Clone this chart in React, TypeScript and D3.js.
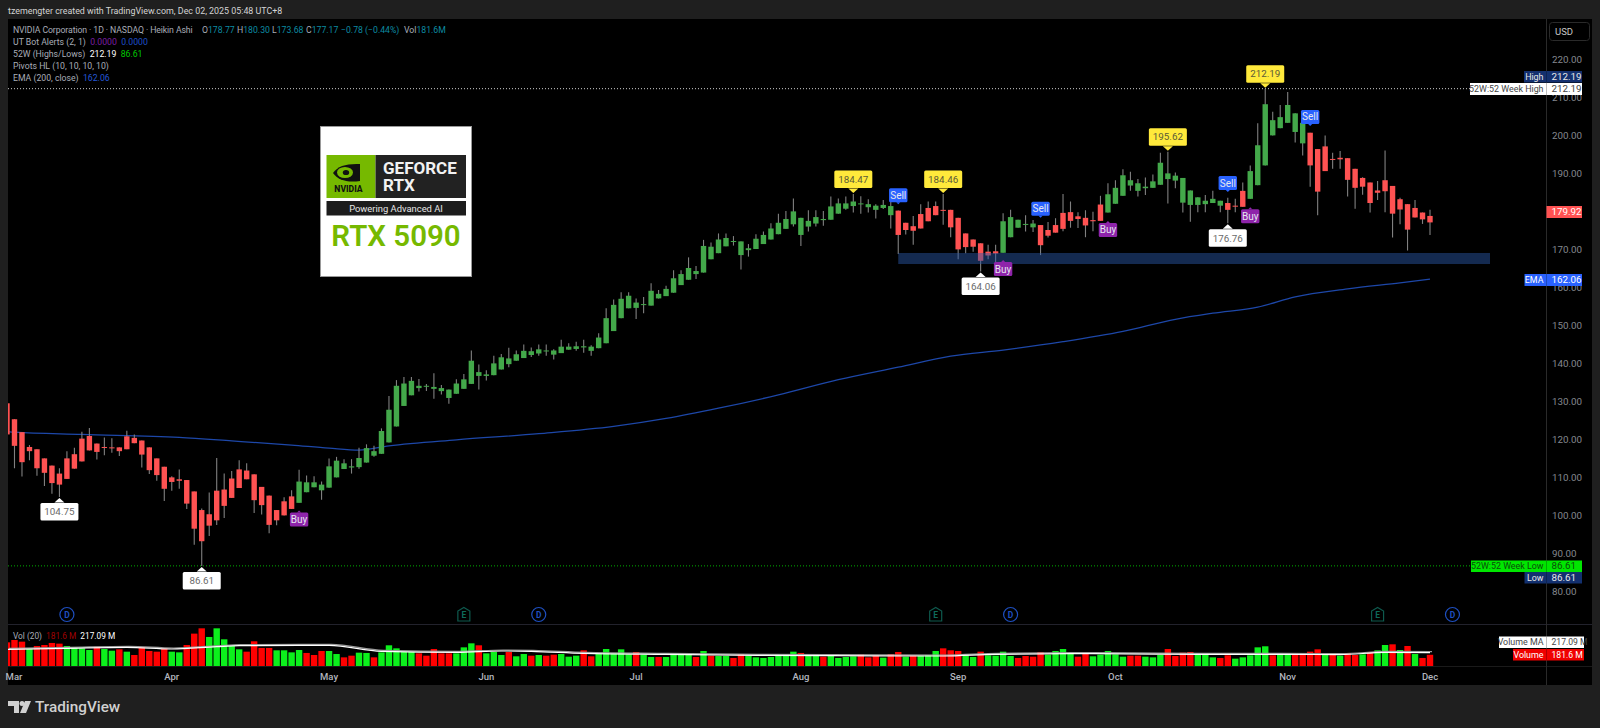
import React, { useEffect, useRef } from 'react';
import * as d3 from 'd3';

// Heikin Ashi candles, one entry per trading day
const candleHigh = [129.4,125.2,121.8,118.4,117.3,114.9,113.0,112.3,116.8,117.7,121.9,122.9,118.8,120.4,120.2,117.8,122.2,121.2,119.6,117.8,114.9,112.7,110.2,112.0,109.2,106.2,101.7,105.9,115.0,110.9,111.6,114.4,113.6,110.7,107.4,105.1,101.3,104.7,106.5,111.9,110.4,110.2,108.8,114.9,115.3,114.7,114.7,117.7,118.6,118.2,122.8,131.3,135.5,136.3,136.3,135.8,134.5,137.3,134.2,133.0,135.7,137.1,143.3,139.6,138.1,141.9,142.4,144.0,143.3,144.9,144.1,144.9,144.9,143.6,146.1,145.2,145.6,146.1,144.7,147.8,154.4,156.7,158.6,158.6,157.0,157.4,161.0,159.2,160.3,164.4,164.4,167.8,165.5,172.4,171.7,174.1,174.1,173.4,172.0,171.3,173.9,174.6,176.8,179.3,180.0,183.3,178.2,180.2,180.2,180.0,183.8,183.3,183.8,184.47,183.9,183.1,181.8,182.9,182.5,180.1,176.9,178.7,181.8,182.5,182.5,184.46,180.3,178.2,174.1,172.5,171.5,171.1,171.1,179.4,180.3,177.7,178.9,177.6,176.3,177.1,178.1,184.5,182.5,179.7,180.2,179.8,184.0,187.3,188.1,191.0,190.3,188.4,188.8,189.6,195.3,195.62,190.1,188.7,185.4,183.6,184.2,185.3,182.7,183.5,183.2,187.5,192.0,203.1,212.19,206.1,207.9,211.3,205.7,203.2,200.6,196.3,199.9,195.3,195.8,193.9,191.1,188.9,187.5,187.9,195.9,186.6,183.5,181.8,182.9,179.6,180.3];
const candleTop = [129.4,125.2,121.8,117.9,117.3,114.9,113.0,110.9,114.9,116.0,120.1,120.8,118.8,117.9,117.8,117.8,120.7,120.3,119.6,117.8,114.9,112.7,109.9,109.4,109.2,106.2,101.3,100.2,106.4,106.7,109.6,112.0,111.7,110.7,107.4,105.1,101.3,103.6,104.9,108.8,108.6,108.6,108.0,112.8,114.3,113.6,112.8,115.0,117.6,116.8,122.1,127.7,134.0,134.6,135.3,134.0,134.0,133.7,133.4,133.0,134.6,135.7,140.6,137.6,137.0,139.9,141.5,141.2,142.3,143.2,143.1,143.6,143.3,143.3,144.3,144.3,144.4,144.4,144.3,146.7,151.8,155.3,156.9,157.7,155.9,155.5,159.0,158.2,159.5,162.3,163.4,165.0,164.2,170.8,170.6,172.5,172.9,172.1,172.0,170.2,172.7,173.7,175.4,176.9,177.9,179.9,178.2,177.4,178.4,177.9,181.2,182.0,182.0,182.5,182.0,181.8,181.4,181.6,181.3,180.1,176.9,176.0,179.2,180.8,181.3,180.3,180.3,178.2,174.1,172.5,171.5,169.3,169.4,177.3,178.4,177.7,176.6,176.7,176.3,175.0,176.3,179.5,179.7,178.6,178.2,177.6,181.7,184.4,186.1,189.4,188.1,187.3,186.4,187.8,192.7,189.9,189.3,188.7,185.4,183.6,182.7,183.2,182.7,182.1,181.4,185.3,190.5,197.3,208.1,203.9,204.7,207.9,205.7,203.2,200.6,196.3,197.0,193.7,194.0,193.9,191.1,188.7,187.5,185.4,188.1,186.6,183.1,181.8,180.8,179.6,178.7];
const candleBottom = [121.2,118.2,113.9,116.8,112.3,111.1,108.4,108.0,109.5,112.2,114.1,117.0,116.6,117.7,117.6,116.8,117.3,118.9,115.9,111.8,110.5,106.9,108.7,109.0,103.0,96.4,93.1,97.2,98.6,102.4,104.5,107.1,109.4,103.9,102.6,97.4,98.6,99.9,101.6,103.2,106.0,107.3,106.5,107.2,109.9,112.1,112.5,112.6,113.8,115.6,116.1,119.1,123.3,128.7,131.5,133.4,133.8,133.2,132.6,130.8,131.9,133.2,134.5,136.6,136.6,136.8,138.3,139.7,140.6,141.3,142.1,142.5,143.2,142.2,142.6,143.5,143.7,144.1,143.2,143.9,145.2,148.4,151.8,154.4,154.5,155.3,155.1,157.0,157.6,158.5,160.5,161.9,163.4,163.8,167.3,168.9,170.7,171.9,168.4,169.7,170.0,171.3,172.5,173.9,175.3,176.5,173.7,175.9,176.7,177.6,177.7,179.3,180.6,181.3,181.9,181.0,180.3,180.8,178.9,173.7,175.0,174.8,175.4,177.3,178.9,180.1,175.7,169.9,170.5,170.6,166.9,168.3,168.8,169.0,173.1,175.6,176.4,175.7,171.0,173.5,174.3,175.3,177.4,177.9,176.2,177.3,177.4,179.6,181.9,184.0,186.7,185.3,186.0,186.1,186.9,188.4,188.0,182.2,181.6,181.6,181.8,182.1,181.4,180.3,181.2,181.1,183.2,186.8,192.0,199.9,201.8,203.2,200.8,197.8,192.0,185.1,190.5,193.5,193.6,188.2,186.1,186.4,182.1,184.8,185.2,179.3,180.4,175.1,178.3,177.8,177.0];
const candleLow = [121.2,112.3,110.1,114.4,110.3,107.6,105.6,104.75,109.5,112.2,114.1,117.0,114.6,115.7,116.4,115.5,117.3,118.9,112.5,110.8,109.0,103.7,106.4,106.9,101.6,92.2,86.61,94.5,97.4,99.2,104.5,107.1,109.4,100.5,100.1,95.2,97.3,99.9,101.6,103.2,106.0,107.3,104.0,107.2,109.9,112.1,110.9,112.2,113.8,115.3,116.1,119.1,123.3,128.7,131.5,132.5,132.6,130.6,131.7,129.3,131.9,133.2,134.5,133.0,135.4,136.8,138.3,138.9,140.6,141.3,141.6,141.9,141.9,140.9,142.6,143.5,143.2,142.7,141.9,143.9,145.2,148.4,151.8,154.4,151.6,153.1,155.1,157.0,157.6,158.5,160.5,161.9,162.1,163.8,167.3,168.9,170.7,170.9,164.6,168.0,170.0,171.3,172.5,173.9,175.3,175.9,170.8,174.6,175.9,176.1,177.7,179.3,180.3,179.6,179.3,179.6,178.0,180.5,175.4,168.7,173.8,171.1,175.4,177.3,178.9,176.4,173.1,167.3,168.9,169.3,164.06,167.3,166.6,169.0,173.1,175.6,174.6,174.5,168.4,173.0,174.3,174.7,175.6,175.5,173.1,174.7,177.4,179.6,181.9,184.0,185.3,183.8,184.2,186.1,186.9,182.0,186.0,179.6,177.2,179.7,179.7,182.1,179.7,176.76,179.7,181.1,183.2,186.8,192.0,199.9,201.8,203.2,198.0,194.6,186.4,178.9,190.5,191.1,191.1,183.8,180.6,184.3,179.6,182.9,179.7,173.0,176.5,169.6,178.3,176.6,173.68];
const candleDir = 'r'.repeat(39) + 'g'.repeat(80) + 'r'.repeat(14) + 'g'.repeat(5) + 'r'.repeat(9) + 'g'.repeat(16) + 'r'.repeat(3) + 'g'.repeat(8) + 'r'.repeat(17);

// volume in millions
const volume = [383,421,394,275,324,340,373,362,324,297,286,259,313,275,248,270,232,178,302,243,232,281,232,221,340,524,610,470,610,432,324,270,232,400,292,292,254,254,221,259,211,178,243,243,194,140,167,216,211,140,221,335,286,227,227,205,167,275,205,205,205,302,367,335,205,227,178,227,157,194,167,178,167,184,194,151,167,254,157,200,275,200,270,189,227,184,146,146,146,184,184,184,146,243,167,162,162,130,194,162,140,130,146,167,189,232,211,162,167,151,173,130,146,157,189,140,167,135,194,227,151,167,167,173,243,286,254,243,173,146,232,173,167,232,162,130,162,151,227,184,243,275,200,151,194,157,184,243,189,151,167,167,151,140,178,275,162,216,227,184,178,140,130,173,119,140,173,302,319,173,178,178,178,178,232,270,189,184,167,211,178,189,227,254,340,351,259,324,194,130,181.6];
const volumeDir = 'rrrgrrrrggggrggrgrrrrrggrrrgggggrrrrggggrrrggrrggrgggggrrrrrgggrggg'
  + 'rggrgrrgggrrgggggrggrggggrgrggrrgggggggrggrggggrrrgrrgrgggrrrggrgg'
  + 'ggrrrrggggrrgggggrrgggrrrrgggrrgggggrggrrrrgrgrrgrggrgrgrr';

// read-offs for the slow lines: [bar index] and value at that bar
const emaBars = [0,1,10,23,30,38,43,47,51,60,71,81,88,95,103,111,119,126,133,141,149,156,161,167,172,179,186,190];
const emaValues = [122.0,121.8,121.2,120.4,119.5,118.4,117.6,117.1,118.2,119.8,121.4,123.3,125.4,128.1,131.6,135.6,138.9,141.8,143.4,145.6,148.3,151.5,153.1,154.7,157.4,159.5,161.1,162.06];
const volMaBars = [0,8,16,22,28,31,43,50,60,66,70,77,88,100,110,125,132,145,160,170,178,184,190];
const volMaValues = [270,286,302,275,313,329,335,238,221,243,238,205,189,173,167,162,189,200,189,189,184,221,217.09];

const priceTicks = [220,210,200,190,170,160,150,140,130,120,110,100,90,80];
const monthBars = [1,22,43,64,84,106,127,148,171,190];
const monthLabels = ['Mar','Apr','May','Jun','Jul','Aug','Sep','Oct','Nov','Dec'];

const pivotBars = [7,26,113,125,130,155,163,168];
const pivotPrices = [104.75,86.61,184.47,184.46,164.06,195.62,176.76,212.19];
const pivotKinds = ['low','low','high','high','low','high','low','high'];

const sellBars = [119,138,163,174];
const sellPrices = [181.8,178.2,185.0,202.4];
const buyBars = [39,133,147,166];
const buyPrices = [101.2,167.1,177.4,181.0];

const dividendBars = [8,71,134,193];
const earningsBars = [61,124,183];

const FONT = 'Roboto, "Noto Sans", sans-serif';
const W = 1600;
const H = 728;

const App: React.FC = () => {
  const ref = useRef<SVGSVGElement | null>(null);

  useEffect(() => {
    if (!ref.current) return;
    const svg = d3.select(ref.current);
    svg.selectAll('*').remove();

    const x = d3.scaleLinear().domain([0, 190]).range([7, 1430]);
    const y = d3.scaleLinear().domain([80, 220]).range([591, 59]);
    const yVol = d3.scaleLinear().domain([0, 680]).range([666, 624]);

    svg.append('rect').attr('width', W).attr('height', H).attr('fill', '#1f1f1f');
    svg.append('rect').attr('x', 8).attr('y', 19).attr('width', 1584).attr('height', 666).attr('fill', '#000');

    svg.append('text').attr('x', 8).attr('y', 14).attr('fill', '#d4d4d4').attr('font-size', 8.9)
      .attr('font-family', FONT).text('tzemengter created with TradingView.com, Dec 02, 2025 05:48 UTC+8');

    svg.append('defs').append('clipPath').attr('id', 'plot')
      .append('rect').attr('x', 8).attr('y', 19).attr('width', 1538).attr('height', 666);
    const plot = svg.append('g').attr('clip-path', 'url(#plot)');

    // 52 week lines
    plot.append('line').attr('x1', 8).attr('x2', 1472).attr('y1', y(212.19)).attr('y2', y(212.19))
      .attr('stroke', '#cfcfcf').attr('stroke-dasharray', '1 2');
    plot.append('line').attr('x1', 8).attr('x2', 1472).attr('y1', y(86.61)).attr('y2', y(86.61))
      .attr('stroke', '#00b000').attr('stroke-dasharray', '1 2');

    // EMA
    const emaLine = d3.line<number>().x((d) => x(d)).y((_, i) => y(emaValues[i])).curve(d3.curveMonotoneX);
    plot.append('path').attr('d', emaLine(emaBars)).attr('fill', 'none').attr('stroke', '#1d47a8').attr('stroke-width', 1.25);

    // candles
    const bars = d3.range(candleHigh.length);
    const bw = 5.4;
    const wick = plot.append('g');
    wick.selectAll('line').data(bars).join('line')
      .attr('x1', (i) => x(i)).attr('x2', (i) => x(i))
      .attr('y1', (i) => y(candleHigh[i])).attr('y2', (i) => y(candleLow[i]))
      .attr('stroke', '#808080').attr('stroke-width', 1.1);
    const body = plot.append('g');
    body.selectAll('rect').data(bars).join('rect')
      .attr('x', (i) => x(i) - bw / 2).attr('width', bw)
      .attr('y', (i) => y(candleTop[i]))
      .attr('height', (i) => Math.max(1, y(candleBottom[i]) - y(candleTop[i])))
      .attr('fill', (i) => (candleDir[i] === 'g' ? '#43a84a' : '#ff5252'));

    // support band sits over the candles
    plot.append('rect').attr('x', x(119)).attr('width', 1490 - x(119))
      .attr('y', y(168.95)).attr('height', y(166.05) - y(168.95))
      .attr('fill', '#2a57a8').attr('opacity', 0.48);

    // pivots
    const pivotStyle: Record<string, { fill: string; text: string }> = {
      high: { fill: '#ffe93b', text: '#5a5a38' },
      low: { fill: '#ffffff', text: '#6a6a6a' },
    };
    const tag = svg.append('g').attr('font-family', FONT);
    pivotBars.forEach((bar, k) => {
      const up = pivotKinds[k] === 'high';
      const s = pivotStyle[pivotKinds[k]];
      const cx = x(bar);
      const tip = y(pivotPrices[k]) + (up ? -1 : 1);
      const dir = up ? -1 : 1;
      const near = tip + dir * 5;
      const boxY = up ? near - 17.5 : near;
      tag.append('path').attr('d', `M${cx - 5},${near + (up ? 0.5 : -0.5)}L${cx},${tip}L${cx + 5},${near + (up ? 0.5 : -0.5)}Z`).attr('fill', s.fill);
      tag.append('rect').attr('x', cx - 19).attr('y', boxY).attr('width', 38).attr('height', 17.5).attr('rx', 1.5).attr('fill', s.fill);
      tag.append('text').attr('x', cx).attr('y', boxY + 12.3).attr('text-anchor', 'middle').attr('font-size', 9.8)
        .attr('fill', s.text).text(d3.format('.2f')(pivotPrices[k]));
    });

    // UT bot signals
    const signal = (bar: number, price: number, label: string, fill: string, above: boolean) => {
      const cx = x(bar);
      const tip = y(price);
      const boxY = above ? tip - 16 : tip + 2;
      tag.append('path').attr('d', above ? `M${cx - 2},${tip - 2}L${cx},${tip}L${cx + 2},${tip - 2}Z` : `M${cx - 2},${tip + 2}L${cx},${tip}L${cx + 2},${tip + 2}Z`).attr('fill', fill);
      tag.append('rect').attr('x', cx - 9.2).attr('y', boxY).attr('width', 18.4).attr('height', 14).attr('rx', 1.5).attr('fill', fill);
      tag.append('text').attr('x', cx).attr('y', boxY + 10.5).attr('text-anchor', 'middle').attr('font-size', 10)
        .attr('fill', '#e6e6f0').text(label);
    };
    sellBars.forEach((b, k) => signal(b, sellPrices[k], 'Sell', '#2962ff', true));
    buyBars.forEach((b, k) => signal(b, buyPrices[k], 'Buy', '#8e24aa', false));

    // product card
    const card = svg.append('g').attr('font-family', FONT);
    card.append('rect').attr('x', 320.5).attr('y', 126.5).attr('width', 151).attr('height', 150).attr('fill', '#fff').attr('stroke', '#999');
    card.append('rect').attr('x', 326.5).attr('y', 155).attr('width', 49).attr('height', 43).attr('fill', '#76b900');
    card.append('rect').attr('x', 375.5).attr('y', 155).attr('width', 90.5).attr('height', 43).attr('fill', '#222');
    card.append('rect').attr('x', 326.5).attr('y', 201).attr('width', 139.5).attr('height', 14.5).attr('fill', '#1c1c1c');
    card.append('path').attr('d', 'M333,173C338,166 346,163.5 360,164V181C347,183 338,180 333,173Z').attr('fill', '#111');
    card.append('ellipse').attr('cx', 345).attr('cy', 172.5).attr('rx', 8).attr('ry', 5.5).attr('fill', '#76b900');
    card.append('ellipse').attr('cx', 346).attr('cy', 172.5).attr('rx', 3.2).attr('ry', 2.6).attr('fill', '#111');
    card.append('text').attr('x', 348.5).attr('y', 191.5).attr('text-anchor', 'middle').attr('font-size', 8.6).attr('font-weight', 800).attr('fill', '#111').text('NVIDIA');
    card.append('text').attr('x', 383).attr('y', 174).attr('font-size', 17).attr('font-weight', 700).attr('fill', '#f2f2f2').text('GEFORCE');
    card.append('text').attr('x', 383).attr('y', 191).attr('font-size', 17).attr('font-weight', 700).attr('fill', '#f2f2f2').text('RTX');
    card.append('text').attr('x', 396).attr('y', 212).attr('text-anchor', 'middle').attr('font-size', 9.4).attr('fill', '#e6e6e6').text('Powering Advanced AI');
    card.append('text').attr('x', 396).attr('y', 246).attr('text-anchor', 'middle').attr('font-size', 29.5).attr('font-weight', 600).attr('fill', '#76b900').text('RTX 5090');

    // legend
    const legend = svg.append('g').attr('font-family', FONT).attr('font-size', 8.7);
    const legendRows: [string, string][][] = [
      [['NVIDIA Corporation · 1D · NASDAQ · Heikin Ashi', '#a9adb8']],
      [['UT Bot Alerts (2, 1)  ', '#a9adb8'], ['0.0000  ', '#7b1fa2'], ['0.0000', '#1e4fc8']],
      [['52W (Highs/Lows)  ', '#a9adb8'], ['212.19  ', '#ffffff'], ['86.61', '#00c800']],
      [['Pivots HL (10, 10, 10, 10)', '#a9adb8']],
      [['EMA (200, close)  ', '#a9adb8'], ['162.06', '#2457d6']],
    ];
    legendRows.forEach((row, r) => {
      const t = legend.append('text').attr('x', 13).attr('y', 33 + r * 12).attr('xml:space', 'preserve');
      if (r === 0) t.attr('letter-spacing', -0.09);
      row.forEach(([txt, col]) => t.append('tspan').attr('fill', col).text(txt));
    });
    const ohlcLabels = ['O', 'H', 'L', 'C', '', 'Vol'];
    const ohlcValues = ['178.77', '180.30', '173.68', '177.17', '−0.78 (−0.44%)', '181.6M'];
    const ohlcX = [202, 237, 272, 306, 341, 404];
    ohlcLabels.forEach((lab, k) => {
      const t = legend.append('text').attr('x', ohlcX[k]).attr('y', 33);
      t.append('tspan').attr('fill', '#a9adb8').text(lab);
      t.append('tspan').attr('fill', '#0c8ba3').text(ohlcValues[k]);
    });

    // volume pane
    const vol = plot.append('g');
    vol.selectAll('rect').data(bars).join('rect')
      .attr('x', (i) => x(i) - 3.2).attr('width', 6.4)
      .attr('y', (i) => yVol(volume[i]))
      .attr('height', (i) => yVol(0) - yVol(volume[i]))
      .attr('fill', (i) => (volumeDir[i] === 'g' ? '#0cf01c' : '#ff0000'));
    const maLine = d3.line<number>().x((d) => x(d)).y((_, i) => yVol(volMaValues[i])).curve(d3.curveMonotoneX);
    plot.append('path').attr('d', maLine(volMaBars)).attr('fill', 'none').attr('stroke', '#9a9a9a').attr('stroke-width', 1.2).attr('transform', 'translate(2,-1)');
    plot.append('path').attr('d', maLine(volMaBars)).attr('fill', 'none').attr('stroke', '#fff').attr('stroke-width', 1.2);

    svg.append('line').attr('x1', 8).attr('x2', 1592).attr('y1', 624.5).attr('y2', 624.5).attr('stroke', '#22222c');
    svg.append('line').attr('x1', 8).attr('x2', 1592).attr('y1', 666.5).attr('y2', 666.5).attr('stroke', '#1a1a1a');
    svg.append('line').attr('x1', 1546.5).attr('x2', 1546.5).attr('y1', 19).attr('y2', 685).attr('stroke', '#2a2a2a');

    const volLabel = svg.append('text').attr('x', 13).attr('y', 639).attr('font-size', 8.3).attr('font-family', FONT).attr('xml:space', 'preserve');
    volLabel.append('tspan').attr('fill', '#a9adb8').text('Vol (20)  ');
    volLabel.append('tspan').attr('fill', '#a00000').text('181.6 M  ');
    volLabel.append('tspan').attr('fill', '#ffffff').text('217.09 M');

    // events
    const events = svg.append('g').attr('font-family', FONT).attr('font-size', 8.5).attr('font-weight', 700).attr('text-anchor', 'middle');
    dividendBars.forEach((b) => {
      events.append('circle').attr('cx', x(b)).attr('cy', 614.5).attr('r', 7).attr('fill', 'none').attr('stroke', '#1e4fc0').attr('stroke-width', 1.2);
      events.append('text').attr('x', x(b)).attr('y', 617.5).attr('fill', '#1e4fc0').text('D');
    });
    earningsBars.forEach((b) => {
      const c = x(b);
      events.append('path').attr('d', `M${c - 6},621V611L${c},607.5L${c + 6},611V621Z`).attr('fill', 'none').attr('stroke', '#0e5a4e').attr('stroke-width', 1.2);
      events.append('text').attr('x', c).attr('y', 617.5).attr('fill', '#0e6a5a').text('E');
    });

    // price axis
    const priceAxis = svg.append('g').attr('transform', 'translate(1552,0)')
      .call(d3.axisRight(y).tickValues(priceTicks).tickFormat(d3.format('.2f') as any).tickSize(0).tickPadding(0));
    priceAxis.select('.domain').remove();
    priceAxis.selectAll('text').attr('fill', '#85888f').attr('font-size', 9.8).attr('font-family', FONT);

    // time axis
    const timeAxis = svg.append('g').attr('font-family', FONT).attr('font-size', 9.5).attr('font-weight', 500).attr('fill', '#b2b5be').attr('text-anchor', 'middle');
    timeAxis.selectAll('text').data(monthBars).join('text')
      .attr('x', (b, i) => (i === 0 ? 14 : x(b))).attr('y', 679.5).text((_, i) => monthLabels[i]);

    // currency box
    svg.append('rect').attr('x', 1549.5).attr('y', 22.5).attr('width', 40).attr('height', 18).attr('rx', 3).attr('fill', 'none').attr('stroke', '#2a2a2a');
    svg.append('text').attr('x', 1555).attr('y', 34.5).attr('font-size', 9.5).attr('font-family', FONT).attr('fill', '#c8c8c8').text('USD');

    // right-hand price tags
    const rightTag = (top: number, h: number, left: number, label: string, value: string, fill: string, color: string, right = 1582) => {
      const g = svg.append('g').attr('font-family', FONT).attr('fill', color);
      g.append('rect').attr('x', left).attr('y', top).attr('width', right - left).attr('height', h).attr('fill', fill);
      if (label) {
        g.append('text').attr('x', 1543.5).attr('y', top + h - 3).attr('text-anchor', 'end').attr('font-size', 8.9).text(label);
        g.append('line').attr('x1', 1546.5).attr('x2', 1546.5).attr('y1', top).attr('y2', top + h).attr('stroke', '#000').attr('stroke-opacity', 0.25);
      }
      g.append('text').attr('x', 1551.5).attr('y', top + h - 3).attr('font-size', value.length > 6 ? 8.6 : 9.8).text(value);
    };
    rightTag(71, 11.5, 1524, 'High', '212.19', '#13306f', '#e8e8e8');
    rightTag(83, 12, 1470, '52W:52 Week High', '212.19', '#ffffff', '#444');
    rightTag(206, 12, 1546.5, '', '179.92', '#ff5252', '#fff');
    rightTag(274, 12, 1524.5, 'EMA', '162.06', '#2962ff', '#fff');
    rightTag(560.5, 11.5, 1471, '52W:52 Week Low', '86.61', '#00e600', '#0b4d0b');
    rightTag(572, 11.5, 1524.5, 'Low', '86.61', '#13306f', '#e8e8e8');
    rightTag(636.5, 11.5, 1499, 'Volume MA', '217.09 M', '#ffffff', '#444', 1584);
    rightTag(649, 11.5, 1513, 'Volume', '181.6 M', '#f00000', '#fff', 1584);

    // footer logo
    const logo = svg.append('g');
    logo.append('path').attr('d', 'M8,701H19V713H14V706H8Z').attr('fill', '#d0d0d0');
    logo.append('circle').attr('cx', 22).attr('cy', 703.5).attr('r', 2.5).attr('fill', '#d0d0d0');
    logo.append('path').attr('d', 'M25,701H31L26,713H20Z').attr('fill', '#d0d0d0');
    logo.append('text').attr('x', 35).attr('y', 712).attr('font-size', 15.3).attr('font-weight', 500).attr('font-family', FONT).attr('fill', '#d0d0d0').text('TradingView');
  }, []);

  return <svg ref={ref} width={W} height={H} style={{ position: 'absolute', left: 0, top: 0, display: 'block' }} />;
};

export default App;
